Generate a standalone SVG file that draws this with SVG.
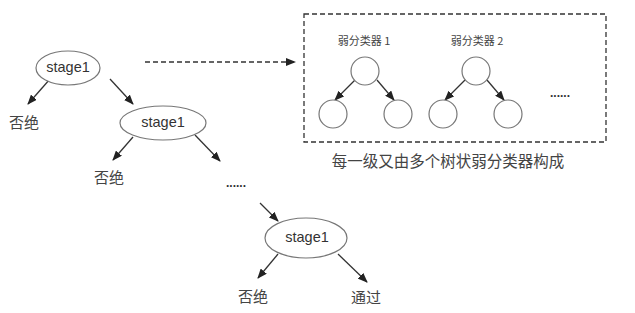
<svg xmlns="http://www.w3.org/2000/svg" width="635" height="313" viewBox="0 0 635 313">
<defs>
<marker id="ah" markerWidth="10" markerHeight="8" refX="9" refY="4" orient="auto" markerUnits="userSpaceOnUse">
<path d="M0,0 L10,4 L0,8 Z" fill="#222"/>
</marker>
<style>
.node{fill:#fff;stroke:#777;stroke-width:1.2}
.t{font-family:"Liberation Sans","Noto Sans CJK SC",sans-serif;fill:#333;text-anchor:middle;dominant-baseline:central}
.cn{font-family:"Noto Sans CJK SC",sans-serif;fill:#444;text-anchor:middle;dominant-baseline:central}
.e{stroke:#333;stroke-width:1.3;fill:none;marker-end:url(#ah)}
.d{font-weight:bold}
</style>
</defs>
<rect width="635" height="313" fill="#fff"/>
<g id="connectors">
<line class="e" x1="50" y1="79" x2="28" y2="104"/>
<line class="e" x1="110" y1="79" x2="133" y2="104"/>
<line class="e" x1="133" y1="137" x2="113" y2="160"/>
<line class="e" x1="195" y1="135" x2="220" y2="161"/>
<line class="e" x1="260" y1="203" x2="278" y2="221"/>
<line class="e" x1="278" y1="254" x2="258" y2="278"/>
<line class="e" x1="338" y1="254" x2="367" y2="282"/>
<line class="e" x1="145" y1="62" x2="295" y2="62" stroke-dasharray="5,3"/>
<line class="e" x1="355" y1="80" x2="335" y2="100"/>
<line class="e" x1="377" y1="80" x2="394" y2="100"/>
<line class="e" x1="465" y1="80" x2="445" y2="100"/>
<line class="e" x1="487" y1="80" x2="504" y2="100"/>
</g>
<g id="stage1a">
<ellipse class="node" cx="68" cy="68" rx="32" ry="17"/>
<text class="t" x="68" y="67" font-size="14.5">stage1</text>
</g>
<g id="reject1"><text class="cn" x="24" y="121" font-size="15">否绝</text></g>
<g id="stage1b">
<ellipse class="node" cx="163" cy="123" rx="43" ry="17"/>
<text class="t" x="163" y="122" font-size="14.5">stage1</text>
</g>
<g id="reject2"><text class="cn" x="109" y="176" font-size="15">否绝</text></g>
<g id="dots1"><text class="t d" x="236" y="183" font-size="12">......</text></g>
<g id="stage1c">
<ellipse class="node" cx="306" cy="238" rx="41" ry="20"/>
<text class="t" x="307" y="237" font-size="14.5">stage1</text>
</g>
<g id="reject3"><text class="cn" x="253" y="295" font-size="15">否绝</text></g>
<g id="pass"><text class="cn" x="366" y="296" font-size="15">通过</text></g>
<g id="box">
<rect x="304" y="14" width="302" height="128" fill="none" stroke="#333" stroke-width="1.3" stroke-dasharray="5,3"/>
</g>
<g id="clf1">
<text class="cn" x="364" y="40" font-size="11">弱分类器 1</text>
<circle class="node" cx="365" cy="71" r="14"/>
<circle class="node" cx="333" cy="114" r="14"/>
<circle class="node" cx="398" cy="114" r="14"/>
</g>
<g id="clf2">
<text class="cn" x="477" y="40" font-size="11">弱分类器 2</text>
<circle class="node" cx="476" cy="71" r="14"/>
<circle class="node" cx="443" cy="114" r="14"/>
<circle class="node" cx="508" cy="114" r="14"/>
</g>
<g id="dots2"><text class="t d" x="560" y="93" font-size="12">......</text></g>
<g id="caption"><text class="cn" x="448" y="160" font-size="15.5">每一级又由多个树状弱分类器构成</text></g>
</svg>
